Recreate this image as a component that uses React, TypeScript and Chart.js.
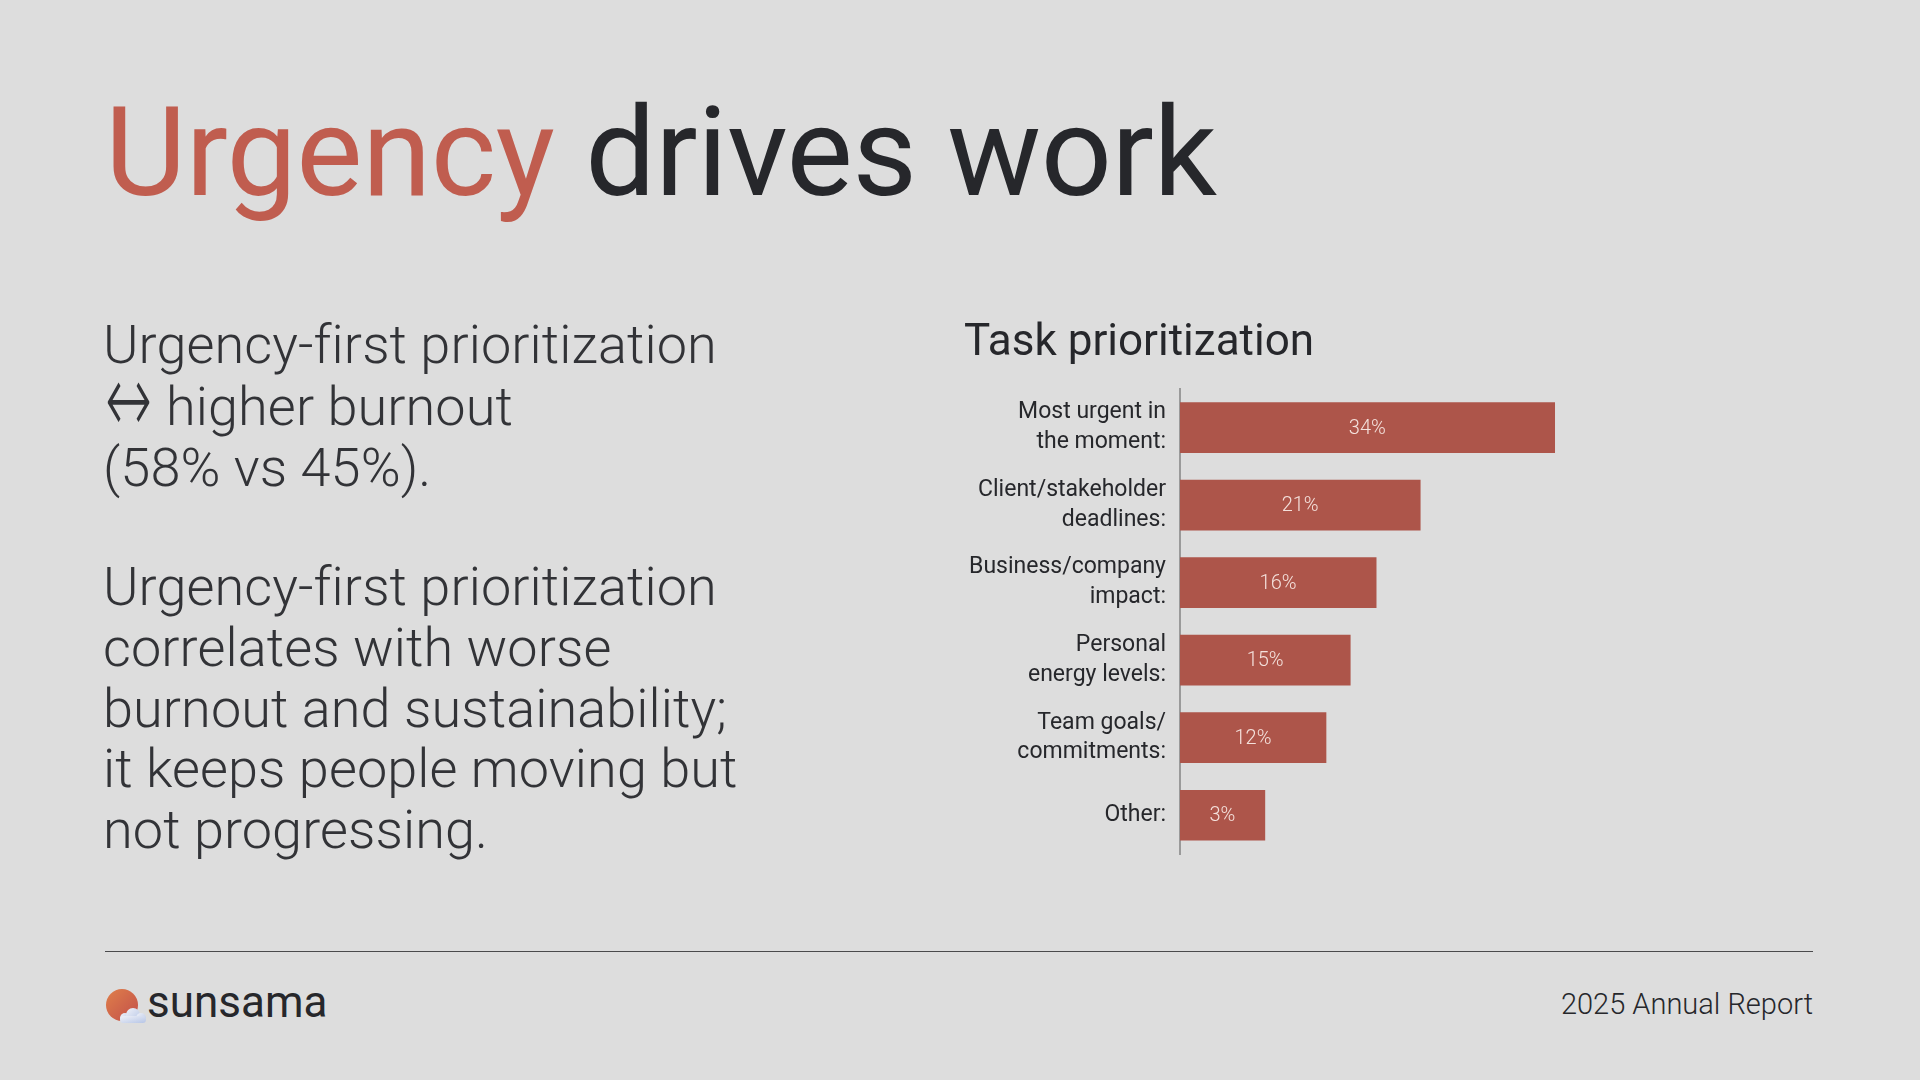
import React, { useEffect, useRef } from "react";
import { Chart, registerables } from "chart.js";

Chart.register(...registerables);

// ---- data ----
const categories: string[][] = [
  ["Most urgent in", "the moment:"],
  ["Client/stakeholder", "deadlines:"],
  ["Business/company", "impact:"],
  ["Personal", "energy levels:"],
  ["Team goals/", "commitments:"],
  ["Other:"],
];
const percentLabels = ["34%", "21%", "16%", "15%", "12%", "3%"];
// bar lengths as drawn in the reference (in % units)
const barLengths = [34, 21.8, 17.8, 15.45, 13.25, 7.7];
const axisMax = 50;

const chartTitle = "Task prioritization";
const headlineAccent = "Urgency";
const headlineRest = " drives work";
const paragraph1Arrow = "↔";
const paragraph1 = ["Urgency-first prioritization", "higher burnout", "(58% vs 45%)."];
const paragraph2 = [
  "Urgency-first prioritization",
  "correlates with worse",
  "burnout and sustainability;",
  "it keeps people moving but",
  "not progressing.",
];
const brand = "sunsama";
const footerRight = "2025 Annual Report";

const BG = "#dddddd";
const DARK = "#26272b";
const ACCENT = "#c05d4f";
const BAR = "#ad554a";
const FONT = "Roboto, 'DejaVu Sans', sans-serif";

const valueLabelPlugin = {
  id: "valueLabels",
  afterDatasetsDraw(chart: any) {
    const ctx = chart.ctx;
    const meta = chart.getDatasetMeta(0);
    ctx.save();
    ctx.font = `300 20px ${FONT}`;
    ctx.fillStyle = "#f4e1dc";
    ctx.textAlign = "center";
    ctx.textBaseline = "middle";
    meta.data.forEach((bar: any, i: number) => {
      const x = (bar.x + bar.base) / 2;
      ctx.fillText(percentLabels[i], x, bar.y + 1);
    });
    ctx.restore();
  },
};

function BarChart() {
  const ref = useRef<HTMLCanvasElement | null>(null);
  useEffect(() => {
    if (!ref.current) return;
    const chart = new Chart(ref.current, {
      type: "bar",
      data: {
        labels: categories as any,
        datasets: [
          {
            data: barLengths,
            backgroundColor: BAR,
            borderWidth: 0,
            barThickness: 50,
          },
        ],
      },
      options: {
        indexAxis: "y",
        animation: false,
        responsive: false,
        devicePixelRatio: 1,
        layout: { padding: { left: 0, right: 3, top: 0, bottom: 6 } },
        plugins: {
          legend: { display: false },
          tooltip: { enabled: false },
          title: {
            display: true,
            text: chartTitle,
            align: "start",
            color: DARK,
            font: { family: FONT, size: 44, weight: "400", lineHeight: 1.2 },
            padding: { top: 18, bottom: 18 },
          },
        },
        scales: {
          x: { display: false, min: 0, max: axisMax },
          y: {
            afterFit: (scale: any) => {
              scale.width = 216;
              scale.paddingTop = 0;
              scale.paddingBottom = 0;
            },
            grid: { display: false, drawTicks: false },
            border: { display: true, color: "#9a9a9a", width: 2 },
            ticks: {
              color: DARK,
              padding: 14,
              font: { family: FONT, size: 23, weight: "400", lineHeight: 1.3 },
            },
          },
        },
      },
      plugins: [valueLabelPlugin],
    } as any);
    return () => chart.destroy();
  }, []);
  return (
    <canvas
      ref={ref}
      width={770}
      height={560}
      style={{ position: "absolute", left: 964, top: 300, width: 770, height: 560 }}
    />
  );
}

function Logo() {
  return (
    <svg width={44} height={40} style={{ position: "absolute", left: 104, top: 988 }}>
      <defs>
        <linearGradient id="sun" x1="0" y1="0" x2="1" y2="1">
          <stop offset="0" stopColor="#df7f4a" />
          <stop offset="1" stopColor="#c24f4a" />
        </linearGradient>
        <linearGradient id="cloud" x1="0" y1="0" x2="1" y2="1">
          <stop offset="0" stopColor="#f0f2f8" />
          <stop offset="1" stopColor="#b6c5e6" />
        </linearGradient>
      </defs>
      <circle cx={18} cy={17} r={16} fill="url(#sun)" />
      <g fill="url(#cloud)">
        <circle cx={21} cy={30} r={5} />
        <circle cx={29} cy={27} r={7} />
        <circle cx={37} cy={30} r={5} />
        <rect x={16} y={28} width={26} height={7} rx={3.5} />
      </g>
    </svg>
  );
}

export default function App() {
  useEffect(() => {
    document.body.style.margin = "0";
    document.body.style.background = BG;
  }, []);
  const bodyStyle: React.CSSProperties = {
    position: "absolute",
    left: 103,
    fontFamily: FONT,
    fontWeight: 300,
    fontSize: 54,
    letterSpacing: "0.1px",
    lineHeight: "60.8px",
    color: "#323337",
    whiteSpace: "pre",
    margin: 0,
  };
  return (
    <div
      style={{
        position: "absolute",
        left: 0,
        top: 0,
        width: 1920,
        height: 1080,
        background: BG,
        overflow: "hidden",
        fontFamily: FONT,
      }}
    >
      <div
        style={{
          position: "absolute",
          left: 105,
          top: 90,
          fontSize: 125,
          lineHeight: "125px",
          fontWeight: 400,
          letterSpacing: "-0.4px",
          color: DARK,
          whiteSpace: "pre",
        }}
      >
        <span style={{ color: ACCENT }}>{headlineAccent}</span>
        {headlineRest}
      </div>

      <div style={{ ...bodyStyle, top: 315 }}>
        <div>{paragraph1[0]}</div>
        <div>
          <span
            style={{
              display: "inline-block",
              fontFamily: "'DejaVu Sans', sans-serif",
              fontWeight: 200,
              fontSize: 56,
              transform: "scale(1.0, 1.75)",
              transformOrigin: "50% 62%",
              marginRight: 14,
              marginLeft: 2,
            }}
          >
            {paragraph1Arrow}
          </span>
          {paragraph1[1]}
        </div>
        <div>{paragraph1[2]}</div>
      </div>
      <div style={{ ...bodyStyle, top: 557 }}>
        {paragraph2.map((l, i) => (
          <div key={i}>{l}</div>
        ))}
      </div>

      <BarChart />

      <div
        style={{
          position: "absolute",
          left: 105,
          top: 951,
          width: 1708,
          height: 0,
          borderTop: "1.5px solid #4a4a4c",
        }}
      />
      <Logo />
      <div
        style={{
          position: "absolute",
          left: 147,
          top: 980,
          fontSize: 44,
          lineHeight: "44px",
          fontWeight: 400,
          color: DARK,
        }}
      >
        {brand}
      </div>
      <div
        style={{
          position: "absolute",
          right: 107,
          top: 990,
          fontSize: 29,
          lineHeight: "29px",
          fontWeight: 300,
          color: DARK,
          whiteSpace: "pre",
        }}
      >
        {footerRight}
      </div>
    </div>
  );
}
